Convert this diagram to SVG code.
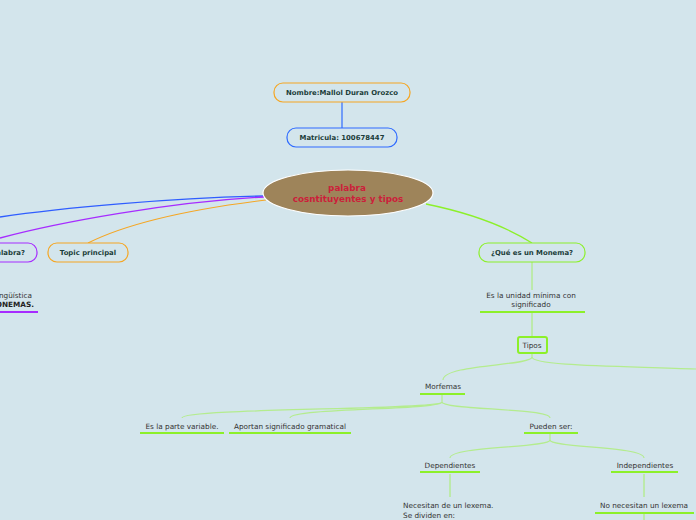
<svg xmlns="http://www.w3.org/2000/svg" width="696" height="520" viewBox="0 0 696 520">
<style>
.t{font-family:"DejaVu Sans",Verdana,sans-serif;font-size:7.3px;fill:#333;text-anchor:middle}
.b{font-family:"DejaVu Sans",Verdana,sans-serif;font-size:6.9px;font-weight:bold;fill:#1b3d3a;text-anchor:middle}
.c{font-family:"DejaVu Sans",Verdana,sans-serif;font-size:8.8px;font-weight:bold;fill:#cc1f3a;text-anchor:middle}
.box{fill:#d3e5ec;stroke-width:1.2}
.ul{stroke:#8cf02a;stroke-width:2}
.gl{stroke:#a6ee6a;stroke-width:1;fill:none}
.gc{stroke:#b4ec8e;stroke-width:1.2;fill:none}
</style>
<rect width="696" height="520" fill="#d3e5ec"/>
<g id="connectors" fill="none">
<path d="M342,102 L342,128" stroke="#2f6bff" stroke-width="1.2"/>
<path d="M264,196 C170,198 60,208 0,217" stroke="#2f5dff" stroke-width="1.3"/>
<path d="M264,197 C170,202 60,222 0,238" stroke="#a62cff" stroke-width="1.3"/>
<path d="M266,200 C200,208 130,222 88,243" stroke="#f5a623" stroke-width="1.2"/>
<path d="M426,204 C470,213 505,226 532,243" stroke="#8cf02a" stroke-width="1.3"/>
<path d="M532,262 L532,290" class="gl"/>
<path d="M532,312 L532,337" class="gl"/>
<path d="M532,353 L532,357 C532,366 443,364 443,380" class="gc"/>
<path d="M532,357 C532,366 620,366 696,369" class="gc"/>
<path d="M442,394 L442,402 C442,410 182,408 182,418" class="gc"/>
<path d="M442,402 C442,410 290,408 290,418" class="gc"/>
<path d="M442,402 C442,410 550,408 550,418" class="gc"/>
<path d="M550,433 L550,440 C550,448 450,446 450,458" class="gc"/>
<path d="M550,440 C550,448 644,446 644,458" class="gc"/>
<path d="M450,474 L450,497" class="gl"/>
<path d="M644,474 L644,497" class="gl"/>
<path d="M644,513 L644,520" class="gl"/>
</g>
<g id="central">
<ellipse cx="348" cy="193" rx="85" ry="23" fill="#9e845a" stroke="#ffffff" stroke-width="1.2"/>
<text class="c" x="347" y="191">palabra</text>
<text class="c" x="348" y="202">cosntituyentes y tipos</text>
</g>
<g id="nombre">
<rect class="box" x="274" y="83" width="136" height="19" rx="9" stroke="#f5a623"/>
<text class="b" x="342" y="95">Nombre:Mallol Duran Orozco</text>
</g>
<g id="matricula">
<rect class="box" x="287" y="128" width="110" height="19" rx="9" stroke="#2f6bff"/>
<text class="b" x="342" y="140">Matricula: 100678447</text>
</g>
<g id="palabra-q">
<rect class="box" x="-70" y="243" width="107" height="19" rx="9" stroke="#a62cff"/>
<text class="b" x="25" y="255" style="text-anchor:end">¿Qué es una palabra?</text>
</g>
<g id="palabra-def">
<text class="t" x="32" y="298" style="text-anchor:end">lingüística</text>
<text class="t" x="34" y="307" style="text-anchor:end;font-weight:bold;fill:#222">MONEMAS.</text>
<line x1="-2" y1="312" x2="38" y2="312" stroke="#a62cff" stroke-width="2"/>
</g>
<g id="topic">
<rect class="box" x="48" y="243" width="80" height="19" rx="9" stroke="#f5a623"/>
<text class="b" x="88" y="255">Topic principal</text>
</g>
<g id="monema-q">
<rect class="box" x="479" y="243" width="106" height="19" rx="9" stroke="#8cf02a"/>
<text class="b" x="532" y="255">¿Qué es un Monema?</text>
</g>
<g id="monema-def">
<text class="t" x="531" y="298">Es la unidad mínima con</text>
<text class="t" x="531" y="307">significado</text>
<line class="ul" x1="480" y1="312" x2="585" y2="312"/>
</g>
<g id="tipos">
<rect x="518" y="337" width="29" height="16" rx="2" fill="#d3e5ec" stroke="#8cf02a" stroke-width="2"/>
<text class="t" x="532" y="348">Tipos</text>
</g>
<g id="morfemas">
<text class="t" x="443" y="389">Morfemas</text>
<line class="ul" x1="420" y1="394" x2="465" y2="394"/>
</g>
<g id="variable">
<text class="t" x="182" y="429">Es la parte variable.</text>
<line class="ul" x1="140" y1="433" x2="224" y2="433"/>
</g>
<g id="gramatical">
<text class="t" x="290" y="429">Aportan significado gramatical</text>
<line class="ul" x1="229" y1="433" x2="351" y2="433"/>
</g>
<g id="pueden">
<text class="t" x="551" y="429">Pueden ser:</text>
<line class="ul" x1="524" y1="433" x2="578" y2="433"/>
</g>
<g id="dependientes">
<text class="t" x="450" y="468">Dependientes</text>
<line class="ul" x1="420" y1="472" x2="480" y2="472"/>
</g>
<g id="independientes">
<text class="t" x="645" y="468">Independientes</text>
<line class="ul" x1="611" y1="472" x2="678" y2="472"/>
</g>
<g id="necesitan">
<text class="t" x="403" y="508" style="text-anchor:start">Necesitan de un lexema.</text>
<text class="t" x="403" y="518" style="text-anchor:start">Se dividen en:</text>
</g>
<g id="no-necesitan">
<text class="t" x="644" y="508">No necesitan un lexema</text>
<line class="ul" x1="595" y1="513" x2="694" y2="513"/>
</g>
</svg>
